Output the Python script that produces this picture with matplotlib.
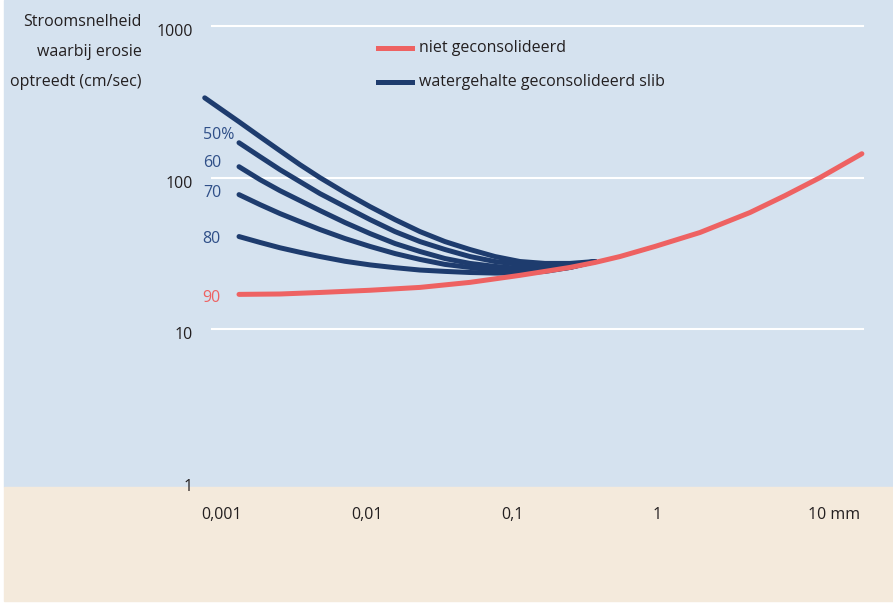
import matplotlib
matplotlib.use('Agg')
import matplotlib.pyplot as plt
import matplotlib.transforms as mtransforms
from matplotlib.lines import Line2D
from matplotlib.patches import Rectangle

plt.rcParams['font.family'] = ['Open Sans', 'DejaVu Sans']

# korrelgrootte (mm) tegen stroomsnelheid waarbij erosie optreedt (cm/sec)
niet_x = [0.00131, 0.00251, 0.00474, 0.0105, 0.0232, 0.0513, 0.1135, 0.1689, 0.2512,
          0.3736, 0.5556, 0.969, 1.98, 4.38, 7.63, 13.3, 25.9]
niet_y = [17.0, 17.1, 17.5, 18.1, 18.9, 20.4, 22.7, 24.1, 25.6,
          27.6, 30.2, 35.2, 43.5, 58.9, 76.1, 100, 143.8]

slib_x = [0.00131, 0.00183, 0.00251, 0.00345, 0.00474, 0.00705, 0.0105, 0.0156,
          0.0232, 0.0345, 0.0513, 0.0763, 0.1135, 0.1689, 0.2512, 0.3736]
slib_top_x = [0.00076] + slib_x
slib_top_y = [336.0, 233.6, 186.1, 150.5, 121.8, 100.0, 79.7, 64.4, 52.9,
              44.1, 37.9, 33.6, 30.2, 28.0, 27.2, 27.2, 28.0]
slib_50 = [169.9, 137.5, 112.9, 94.1, 78.5, 64.4, 52.9, 44.1,
           37.9, 33.6, 30.2, 28.0, 26.8, 26.0, 26.4, 28.0]
slib_60 = [118.1, 97.0, 82.1, 70.6, 60.7, 50.6, 42.8, 36.8,
           32.6, 29.3, 27.2, 26.0, 25.2, 25.2, 26.0, 28.0]
slib_70 = [77.3, 66.4, 58.0, 51.3, 45.5, 39.7, 35.2, 31.6,
           28.9, 26.8, 25.6, 24.4, 24.1, 24.4, 25.6, 28.0]
slib_80 = [40.9, 37.4, 34.5, 32.2, 30.2, 28.1, 26.6, 25.5,
           24.6, 24.1, 23.7, 23.5, 23.5, 24.1, 25.6, 28.0]

curve_labels = ['50%', '60', '70', '80', '90']
label_pos = [(0.000953, 191.8), (0.000853, 125.5), (0.000853, 79.7), (0.000838, 39.7), (0.000838, 16.0)]

x_ticks = [0.001, 0.01, 0.1, 1]
x_labels = ['0,001', '0,01', '0,1', '1']
y_ticks = [1, 10, 100, 1000]
y_labels = ['1', '10', '100', '1000']

blauw_bg = '#d5e2ef'
beige_bg = '#f4eadc'
navy = '#1e3c6e'
rood = '#ee6262'
tekst = '#231f20'
label_blauw = '#2f4f88'
fs = 11.5

W, H = 893, 603
fig = plt.figure(figsize=(W / 100, H / 100), dpi=100)
fig.patch.set_facecolor('white')

# achtergrondvlakken
fig.patches.append(Rectangle((4 / W, (H - 487) / H), 1 - 4 / W, 487 / H,
                             transform=fig.transFigure, color=blauw_bg, zorder=-2))
fig.patches.append(Rectangle((4 / W, 2 / H), 1 - 4 / W, (H - 487 - 2) / H,
                             transform=fig.transFigure, color=beige_bg, zorder=-2))

ax = fig.add_axes([212 / W, (H - 481) / H, 651 / W, 455 / H])
ax.set_xscale('log')
ax.set_yscale('log')
ax.set_xlim(10 ** -3.069, 10 ** 1.421)
ax.set_ylim(1, 1000)
ax.axis('off')

for v in [10, 100, 1000]:
    ax.axhline(v, color='white', lw=1.5, zorder=1, clip_on=False)

lw = 3.6
kw = dict(lw=lw, solid_capstyle='round', solid_joinstyle='round', clip_on=False)
ax.plot(slib_top_x, slib_top_y, color=navy, zorder=2, **kw)
for ys in [slib_50, slib_60, slib_70, slib_80]:
    ax.plot(slib_x, ys, color=navy, zorder=2, **kw)
ax.plot(niet_x, niet_y, color=rood, zorder=3, **kw)

for lab, (lx, ly) in zip(curve_labels, label_pos):
    kleur = rood if lab == '90' else label_blauw
    ax.text(lx, ly, lab, color=kleur, fontsize=fs, ha='center', va='center')

# as-labels
ytrans = mtransforms.offset_copy(ax.get_yaxis_transform(), fig=fig, y=-6, units='dots')
for v, lab in zip(y_ticks, y_labels):
    ax.text((193 - 212) / 651, v, lab, transform=ytrans, ha='right', va='center',
            fontsize=fs, color=tekst)

xtrans = mtransforms.offset_copy(ax.get_xaxis_transform(), fig=fig, y=-34, units='dots')
for v, lab in zip(x_ticks, x_labels):
    ax.text(v, 0, lab, transform=xtrans, ha='center', va='center', fontsize=fs, color=tekst)
xtrans_mm = mtransforms.offset_copy(ax.get_xaxis_transform(), fig=fig, x=6, y=-34, units='dots')
ax.text(10, 0, '10 mm', transform=xtrans_mm, ha='left', va='center', fontsize=fs, color=tekst)

# titel van de y-as
for i, regel in enumerate(['Stroomsnelheid', 'waarbij erosie', 'optreedt (cm/sec)']):
    fig.text(142 / W, 1 - (22 + 30 * i) / H, regel, ha='right', va='center',
             fontsize=fs, color=tekst)

# legenda
for yy, kleur, naam in [(48, rood, 'niet geconsolideerd'),
                        (82, navy, 'watergehalte geconsolideerd slib')]:
    fig.lines.append(Line2D([378 / W, 412 / W], [1 - yy / H, 1 - yy / H], transform=fig.transFigure,
                            color=kleur, lw=3.6))
    fig.text(419 / W, 1 - yy / H, naam, ha='left', va='center', fontsize=fs, color=tekst)

fig.savefig('out.png', dpi=100)
